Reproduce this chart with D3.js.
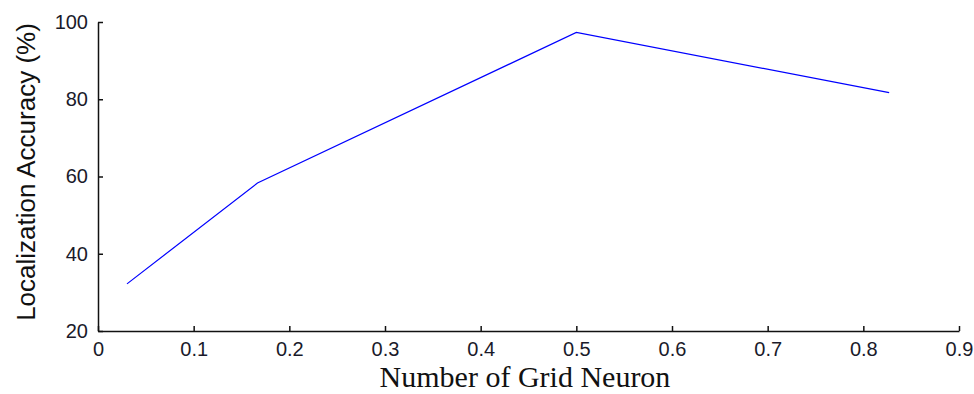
<!DOCTYPE html>
<html>
<head>
<meta charset="utf-8">
<script src="https://cdn.jsdelivr.net/npm/d3@7"></script>
<style>
body { margin: 0; background: #fff; }
.tick text { font-family: "Liberation Sans", Arial, sans-serif; font-size: 20px; fill: #1a1a2a; }
</style>
</head>
<body>
<div id="chart"></div>
<script>
// values
var xvals = [0.0303, 0.1667, 0.5, 0.827];
var yvals = [32.2, 58.3, 97.3, 81.7];
var xticks = [0, 0.1, 0.2, 0.3, 0.4, 0.5, 0.6, 0.7, 0.8, 0.9];
var yticks = [20, 40, 60, 80, 100];
var xlabel = "Number of Grid Neuron";
var ylabel = "Localization Accuracy (%)";

var W = 974, H = 394;
var mLeft = 98, mRight = 959, mTop = 22, mBottom = 331;

var svg = d3.select("#chart").append("svg")
  .attr("width", W)
  .attr("height", H);

var xscale = d3.scaleLinear().domain([0, 0.9]).range([mLeft, mRight]);
var yscale = d3.scaleLinear().domain([20, 100]).range([mBottom, mTop]);

var xaxis = svg.append("g")
  .attr("transform", "translate(0," + mBottom + ")")
  .call(d3.axisBottom(xscale).tickValues(xticks).tickFormat(d3.format("")).tickSizeInner(-5).tickSizeOuter(0).tickPadding(11));

var yaxis = svg.append("g")
  .attr("transform", "translate(" + mLeft + ",0)")
  .call(d3.axisLeft(yscale).tickValues(yticks).tickSizeInner(-5).tickSizeOuter(0).tickPadding(10));

svg.selectAll(".domain").attr("stroke", "#111").attr("stroke-width", 1.5);
svg.selectAll(".tick line").attr("stroke", "#111").attr("stroke-width", 1.5);

var line = d3.line()
  .x(function(d) { return xscale(d[0]); })
  .y(function(d) { return yscale(d[1]); });

var pts = [];
for (var i = 0; i < xvals.length; i++) {
  pts.push([xvals[i], yvals[i]]);
}

svg.append("path")
  .datum(pts)
  .attr("d", line)
  .attr("fill", "none")
  .attr("stroke", "#0000ff")
  .attr("stroke-width", 1.2);

svg.append("text")
  .attr("x", 525)
  .attr("y", 387)
  .attr("text-anchor", "middle")
  .style("font-family", "'Liberation Serif', 'Times New Roman', serif")
  .style("font-size", "30px")
  .style("fill", "#111")
  .text(xlabel);

svg.append("text")
  .attr("transform", "translate(35,172) rotate(-90)")
  .attr("text-anchor", "middle")
  .style("font-family", "'Liberation Sans', Arial, sans-serif")
  .style("font-size", "26px")
  .style("fill", "#111")
  .text(ylabel);
</script>
</body>
</html>
